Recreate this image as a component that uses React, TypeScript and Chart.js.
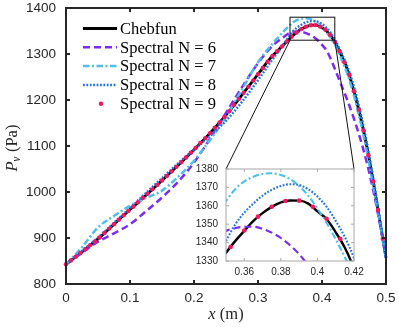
import React, { useEffect, useRef } from "react";
import { Chart, registerables } from "chart.js";

Chart.register(...registerables);

// ---------- data ----------
const xGrid = [0, 0.025, 0.05, 0.075, 0.1, 0.125, 0.15, 0.175, 0.2, 0.225, 0.25, 0.275, 0.3, 0.32, 0.34,
  0.35, 0.355, 0.36, 0.365, 0.37, 0.375, 0.38, 0.385, 0.39, 0.395, 0.4, 0.405, 0.41, 0.415, 0.42,
  0.43, 0.44, 0.45, 0.46, 0.47, 0.48, 0.49, 0.5];

const chebfun = [843, 870, 898, 930, 962, 993, 1025, 1058, 1092, 1128, 1167, 1211, 1256, 1292, 1320,
  1334.5, 1340.8, 1346.4, 1351.8, 1356, 1359.4, 1361.9, 1362.9, 1362.8, 1361.2, 1357, 1352.8, 1345.6, 1337.2, 1326,
  1298, 1265, 1219, 1164, 1099, 1023, 940, 857];

const spectral6 = [843, 868, 892, 910, 930, 958, 988, 1022, 1064, 1116, 1172, 1228, 1280, 1314, 1337,
  1346.3, 1347.8, 1348.6, 1348.6, 1347.5, 1345.4, 1342.5, 1338.6, 1333.7, 1327.5, 1320, 1312, 1300, 1285, 1268,
  1233, 1198, 1159, 1115, 1064, 1004, 934, 857];

const spectral7 = [843, 880, 923, 948, 970, 987, 1003, 1033, 1068, 1113, 1163, 1223, 1282, 1318, 1349,
  1362.6, 1369, 1373.3, 1375.8, 1377.3, 1377.7, 1376.7, 1374.6, 1370.7, 1365.5, 1358.5, 1350.8, 1341.8, 1332, 1321,
  1290, 1255, 1209, 1153, 1089, 1014, 937, 857];

const spectral8 = [843, 872, 901, 933, 965, 998, 1030, 1062, 1092, 1122, 1155, 1196, 1243, 1283, 1321,
  1340.9, 1349.8, 1356.3, 1361.3, 1365.5, 1368.7, 1370.8, 1371.7, 1371.3, 1369, 1365, 1359.5, 1351.8, 1343, 1331.5,
  1303, 1271, 1228, 1173, 1107, 1030, 944, 857];

const xDots = [0, 0.0075, 0.015, 0.0225, 0.03, 0.0375, 0.045, 0.0525, 0.06, 0.0675, 0.075, 0.0825, 0.09, 0.0975,
  0.105, 0.1125, 0.12, 0.1275, 0.135, 0.1425, 0.15, 0.1575, 0.165, 0.1725, 0.18, 0.1875, 0.195, 0.2025, 0.21,
  0.2175, 0.225, 0.2325, 0.24, 0.2475, 0.255, 0.2625, 0.27, 0.2775, 0.285, 0.2925, 0.3, 0.3075, 0.315, 0.3225,
  0.33, 0.3375, 0.345, 0.3525, 0.36, 0.3675, 0.375, 0.3825, 0.39, 0.3975, 0.405, 0.4125, 0.42, 0.4275, 0.435,
  0.4425, 0.45, 0.4575, 0.465, 0.4725, 0.48, 0.4875, 0.495];

const spectral9 = [843, 851.1, 859.2, 867.3, 875.6, 884, 892.4, 901.2, 910.8, 920.4, 930, 939.6, 949.2, 958.8,
  968.2, 977.5, 986.8, 996.2, 1005.8, 1015.4, 1025, 1034.9, 1044.8, 1054.7, 1064.8, 1075, 1085.2, 1095.6, 1106.4,
  1117.2, 1128, 1139.7, 1151.4, 1163.1, 1175.8, 1189, 1202.2, 1215.5, 1229, 1242.5, 1256, 1269.5, 1283, 1295.5,
  1306, 1316.5, 1327.3, 1337.6, 1346.6, 1354.1, 1359.5, 1362.6, 1362.8, 1359.5, 1353, 1342, 1326, 1306, 1282,
  1255, 1219, 1179, 1134, 1080, 1023, 961, 899];

const seriesLabels = ["Chebfun", "Spectral N = 6", "Spectral N = 7", "Spectral N = 8", "Spectral N = 9"];

const xTicksMain = [0, 0.1, 0.2, 0.3, 0.4, 0.5];
const yTicksMain = [800, 900, 1000, 1100, 1200, 1300, 1400];
const xTicksInset = [0.36, 0.38, 0.4, 0.42];
const yTicksInset = [1330, 1340, 1350, 1360, 1370, 1380];
const zoomXRange = [0.35, 0.42];
const zoomYRange = [1330, 1380];

// ---------- styles ----------
const BLACK = "#000000";
const PURPLE = "#7b2cf4";
const LIGHTBLUE = "#4cc0ea";
const BLUE = "#1f74e6";
const PINK = "#f5165f";
const AXIS = "#262626";

const styles = [
  { color: BLACK, dash: [] as number[], kind: "line" },
  { color: PURPLE, dash: [7, 4], kind: "line" },
  { color: LIGHTBLUE, dash: [6.5, 2.5, 2, 2.5], kind: "line" },
  { color: BLUE, dash: [1.8, 1.6], kind: "line" },
  { color: PINK, dash: [] as number[], kind: "dot" },
];

const MAIN_W = 399, MAIN_H = 327;
const INSET_LEFT = 176, INSET_TOP = 163, INSET_W = 190, INSET_H = 120;

const SERIF = '"Liberation Serif", "Times New Roman", serif';
const SANS = '"Liberation Sans", Arial, sans-serif';

function pts(xs: number[], ys: number[]) {
  return xs.map((x, i) => ({ x, y: ys[i] }));
}

function makeDatasets(lw: number, dotR: number, clip: any) {
  const lines = [chebfun, spectral6, spectral7, spectral8];
  const ds: any[] = lines.map((ys, i) => ({
    label: seriesLabels[i],
    data: pts(xGrid, ys),
    borderColor: styles[i].color,
    backgroundColor: styles[i].color,
    borderWidth: i === 0 ? lw + 0.3 : lw,
    borderDash: styles[i].dash,
    borderCapStyle: "butt",
    borderJoinStyle: "round",
    pointRadius: 0,
    fill: false,
    cubicInterpolationMode: "monotone",
    order: 5 - i,
    clip,
  }));
  ds.push({
    label: seriesLabels[4],
    data: pts(xDots, spectral9),
    showLine: false,
    pointRadius: dotR,
    pointBackgroundColor: PINK,
    pointBorderWidth: 0,
    borderColor: PINK,
    order: 0,
    clip,
  });
  return ds;
}

const fmt = (v: number) => (v === 0 ? "0" : String(+Number(v).toFixed(2)));

function fixH(h: number) {
  return (s: any) => { s.height = h; s.paddingLeft = 0; s.paddingRight = 0; s.paddingTop = 0; s.paddingBottom = 0; };
}
function fixW(w: number) {
  return (s: any) => { s.width = w; s.paddingLeft = 0; s.paddingRight = 0; s.paddingTop = 0; s.paddingBottom = 0; };
}

function drawFrame(chart: any, xt: number[], yt: number[], color: string, lw: number, tl: number) {
  const { ctx, chartArea: ca } = chart;
  const xs = chart.scales.x, ys = chart.scales.y;
  ctx.save();
  ctx.strokeStyle = color;
  ctx.lineWidth = lw;
  ctx.setLineDash([]);
  ctx.strokeRect(ca.left, ca.top, ca.right - ca.left, ca.bottom - ca.top);
  ctx.beginPath();
  for (const v of xt) {
    const p = xs.getPixelForValue(v);
    ctx.moveTo(p, ca.bottom); ctx.lineTo(p, ca.bottom - tl);
    ctx.moveTo(p, ca.top); ctx.lineTo(p, ca.top + tl);
  }
  for (const v of yt) {
    const p = ys.getPixelForValue(v);
    ctx.moveTo(ca.left, p); ctx.lineTo(ca.left + tl, p);
    ctx.moveTo(ca.right, p); ctx.lineTo(ca.right - tl, p);
  }
  ctx.stroke();
  ctx.restore();
}

export default function App() {
  const mainRef = useRef<HTMLCanvasElement | null>(null);
  const insetRef = useRef<HTMLCanvasElement | null>(null);

  useEffect(() => {
    if (!mainRef.current || !insetRef.current) return;

    const insetPlugin = {
      id: "insetDecor",
      beforeDatasetsDraw(chart: any) {
        const { ctx, chartArea: ca } = chart;
        ctx.save();
        ctx.fillStyle = "#ffffff";
        ctx.fillRect(ca.left, ca.top, ca.right - ca.left, ca.bottom - ca.top);
        ctx.restore();
      },
      afterDraw(chart: any) {
        drawFrame(chart, xTicksInset, yTicksInset, "#a8a8a8", 1, 3);
      },
    };

    const inset = new Chart(insetRef.current, {
      type: "line",
      data: { datasets: makeDatasets(2.1, 2.3, 0) },
      options: {
        animation: false,
        responsive: false,
        events: [],
        layout: { padding: { left: 0, right: 12, top: 6, bottom: 0 } },
        plugins: { legend: { display: false }, tooltip: { enabled: false } },
        scales: {
          x: {
            type: "linear",
            min: zoomXRange[0],
            max: zoomXRange[1],
            afterBuildTicks: (s: any) => { s.ticks = xTicksInset.map((v) => ({ value: v })); },
            afterFit: fixH(22),
            grid: { display: false, drawTicks: false },
            border: { display: false },
            ticks: { padding: 5, autoSkip: false, maxRotation: 0, color: AXIS, font: { family: SANS, size: 10 }, callback: (v: any) => fmt(v) },
          },
          y: {
            type: "linear",
            min: zoomYRange[0],
            max: zoomYRange[1],
            afterBuildTicks: (s: any) => { s.ticks = yTicksInset.map((v) => ({ value: v })); },
            afterFit: fixW(50),
            grid: { display: false, drawTicks: false },
            border: { display: false },
            ticks: { padding: 8, autoSkip: false, color: AXIS, font: { family: SANS, size: 10 }, callback: (v: any) => String(v) },
          },
        },
      } as any,
      plugins: [insetPlugin],
    });

    const mainPlugin = {
      id: "mainDecor",
      afterDraw(chart: any) {
        const { ctx, chartArea: ca } = chart;
        const xs = chart.scales.x, ys = chart.scales.y;
        ctx.save();
        // zoom rectangle
        const rx0 = xs.getPixelForValue(zoomXRange[0]);
        const rx1 = xs.getPixelForValue(zoomXRange[1]);
        const ry0 = ys.getPixelForValue(zoomYRange[1]);
        const ry1 = ys.getPixelForValue(zoomYRange[0]);
        ctx.strokeStyle = "#111";
        ctx.lineWidth = 1;
        ctx.setLineDash([]);
        ctx.strokeRect(rx0, ry0, rx1 - rx0, ry1 - ry0);
        // connectors to inset
        const ia = inset.chartArea;
        const il = INSET_LEFT + ia.left, ir = INSET_LEFT + ia.right, it = INSET_TOP + ia.top;
        ctx.beginPath();
        ctx.moveTo(rx0, ry1); ctx.lineTo(il, it);
        ctx.moveTo(rx1, ry1); ctx.lineTo(ir, it);
        ctx.stroke();
        ctx.restore();

        drawFrame(chart, xTicksMain, yTicksMain, AXIS, 2, 4);

        // legend
        ctx.save();
        const sx0 = 83, sx1 = 117, tx = 120, y0 = 28.5, dy = 18.8;
        styles.forEach((st, i) => {
          const y = y0 + i * dy;
          if (st.kind === "line") {
            ctx.strokeStyle = st.color;
            ctx.lineWidth = i === 0 ? 2.8 : 2.5;
            ctx.lineCap = "butt";
            ctx.setLineDash(st.dash);
            ctx.beginPath();
            ctx.moveTo(sx0, y); ctx.lineTo(sx1, y);
            ctx.stroke();
          } else {
            ctx.fillStyle = st.color;
            ctx.beginPath();
            ctx.arc((sx0 + sx1) / 2 + 1, y, 2.2, 0, Math.PI * 2);
            ctx.fill();
          }
          ctx.setLineDash([]);
          ctx.fillStyle = "#000";
          ctx.font = `16.5px ${SERIF}`;
          ctx.textBaseline = "middle";
          ctx.textAlign = "left";
          ctx.fillText(seriesLabels[i], tx, y + 1);
        });
        ctx.restore();

        // x axis title
        ctx.save();
        ctx.fillStyle = AXIS;
        ctx.textBaseline = "alphabetic";
        ctx.textAlign = "left";
        ctx.font = `italic 16.5px ${SERIF}`;
        const wx = ctx.measureText("x").width;
        ctx.font = `16.5px ${SERIF}`;
        const wm = ctx.measureText(" (m)").width;
        const cx = (ca.left + ca.right) / 2;
        let px = cx - (wx + wm) / 2;
        ctx.font = `italic 16.5px ${SERIF}`;
        ctx.fillText("x", px, 319);
        ctx.font = `16.5px ${SERIF}`;
        ctx.fillText(" (m)", px + wx, 319);
        ctx.restore();

        // y axis title
        ctx.save();
        ctx.fillStyle = AXIS;
        ctx.translate(17, 148);
        ctx.rotate(-Math.PI / 2);
        ctx.textBaseline = "alphabetic";
        ctx.textAlign = "left";
        ctx.font = `italic 16.5px ${SERIF}`;
        const wP = ctx.measureText("P").width;
        ctx.font = `italic 11.5px ${SERIF}`;
        const wv = ctx.measureText("v").width;
        ctx.font = `16.5px ${SERIF}`;
        const wr = ctx.measureText(" (Pa)").width;
        let s = -(wP + wv + wr) / 2;
        ctx.font = `italic 16.5px ${SERIF}`;
        ctx.fillText("P", s, 0);
        ctx.font = `italic 11.5px ${SERIF}`;
        ctx.fillText("v", s + wP - 0.5, 3);
        ctx.font = `16.5px ${SERIF}`;
        ctx.fillText(" (Pa)", s + wP + wv, 0);
        ctx.restore();
      },
    };

    const main = new Chart(mainRef.current, {
      type: "line",
      data: { datasets: makeDatasets(2.5, 2.2, false) },
      options: {
        animation: false,
        responsive: false,
        events: [],
        layout: { padding: { left: 0, right: 13, top: 8, bottom: 0 } },
        plugins: { legend: { display: false }, tooltip: { enabled: false } },
        scales: {
          x: {
            type: "linear",
            min: 0,
            max: 0.5,
            afterBuildTicks: (s: any) => { s.ticks = xTicksMain.map((v) => ({ value: v })); },
            afterFit: fixH(43),
            grid: { display: false, drawTicks: false },
            border: { display: false },
            ticks: { padding: 6, autoSkip: false, maxRotation: 0, color: AXIS, font: { family: SANS, size: 13.5 }, callback: (v: any) => fmt(v) },
          },
          y: {
            type: "linear",
            min: 800,
            max: 1400,
            afterBuildTicks: (s: any) => { s.ticks = yTicksMain.map((v) => ({ value: v })); },
            afterFit: fixW(66),
            grid: { display: false, drawTicks: false },
            border: { display: false },
            ticks: { padding: 10, autoSkip: false, color: AXIS, font: { family: SANS, size: 13.5 }, callback: (v: any) => String(v) },
          },
        },
      } as any,
      plugins: [mainPlugin],
    });

    return () => {
      main.destroy();
      inset.destroy();
    };
  }, []);

  return (
    <div style={{ position: "absolute", left: 0, top: 0, width: MAIN_W, height: MAIN_H, background: "#fff" }}>
      <canvas ref={mainRef} width={MAIN_W} height={MAIN_H}
        style={{ position: "absolute", left: 0, top: 0, width: MAIN_W, height: MAIN_H }} />
      <canvas ref={insetRef} width={INSET_W} height={INSET_H}
        style={{ position: "absolute", left: INSET_LEFT, top: INSET_TOP, width: INSET_W, height: INSET_H }} />
    </div>
  );
}
